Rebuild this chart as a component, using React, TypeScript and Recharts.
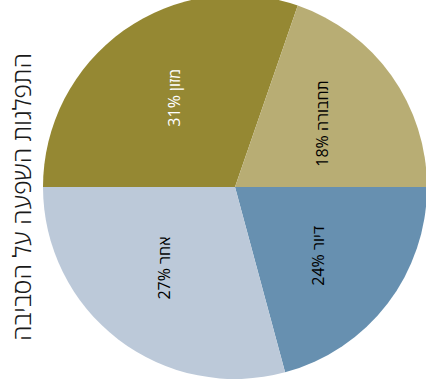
import React from 'react';
import { PieChart, Pie, Cell } from 'recharts';

const categories = ['מזון', 'תחבורה', 'דיור', 'אחר'];
const sliceValues = [30.3, 19.7, 20.8, 29.2];
const labelPercents = [31, 18, 24, 27];
const colors = ['#958833', '#B8AD74', '#6790B0', '#BCC9D9'];
const labelColors = ['#FFFFFF', '#000000', '#000000', '#000000'];
const title = 'התפלגות השפעה על הסביבה';

const sliceData = categories.map((name, i) => ({ name, value: sliceValues[i] }));
const labelData = categories.map((name, i) => ({ name, value: labelPercents[i] }));

const RAD = Math.PI / 180;
const FONT = '"Open Sans", "Liberation Sans", sans-serif';

const renderLabel = (props: any) => {
  const { cx, cy, midAngle, index } = props;
  const r = 108;
  const x = cx + r * Math.cos(-midAngle * RAD);
  const y = cy + r * Math.sin(-midAngle * RAD);
  return (
    <text
      x={x}
      y={y}
      transform={`rotate(-90 ${x} ${y})`}
      textAnchor="middle"
      dominantBaseline="central"
      direction="rtl"
      fill={labelColors[index]}
      fontSize={16}
      fontFamily={FONT}
    >
      {`${categories[index]} ${labelPercents[index]}%`}
    </text>
  );
};

export default function App() {
  return (
    <div style={{ position: 'absolute', left: 0, top: 0, width: 426, height: 388, background: '#fff' }}>
      <PieChart width={426} height={388} margin={{ top: 0, right: 0, bottom: 0, left: 0 }}>
        <Pie
          data={sliceData}
          dataKey="value"
          nameKey="name"
          cx={235}
          cy={187}
          outerRadius={192}
          startAngle={180}
          endAngle={-180}
          stroke="none"
          isAnimationActive={false}
        >
          {sliceData.map((d, i) => (
            <Cell key={d.name} fill={colors[i]} />
          ))}
        </Pie>
        <Pie
          data={labelData}
          dataKey="value"
          nameKey="name"
          cx={235}
          cy={187}
          outerRadius={192}
          startAngle={180}
          endAngle={-180}
          fill="none"
          stroke="none"
          label={renderLabel}
          labelLine={false}
          isAnimationActive={false}
        />
      </PieChart>
      <svg width={50} height={388} style={{ position: 'absolute', left: 0, top: 0 }}>
        <text
          x={21}
          y={197}
          transform="rotate(-90 21 197)"
          textAnchor="middle"
          dominantBaseline="central"
          fontSize={25}
          fontWeight={300}
          fontFamily={FONT}
          fill="#1a1a1a"
        >
          {title}
        </text>
      </svg>
    </div>
  );
}
